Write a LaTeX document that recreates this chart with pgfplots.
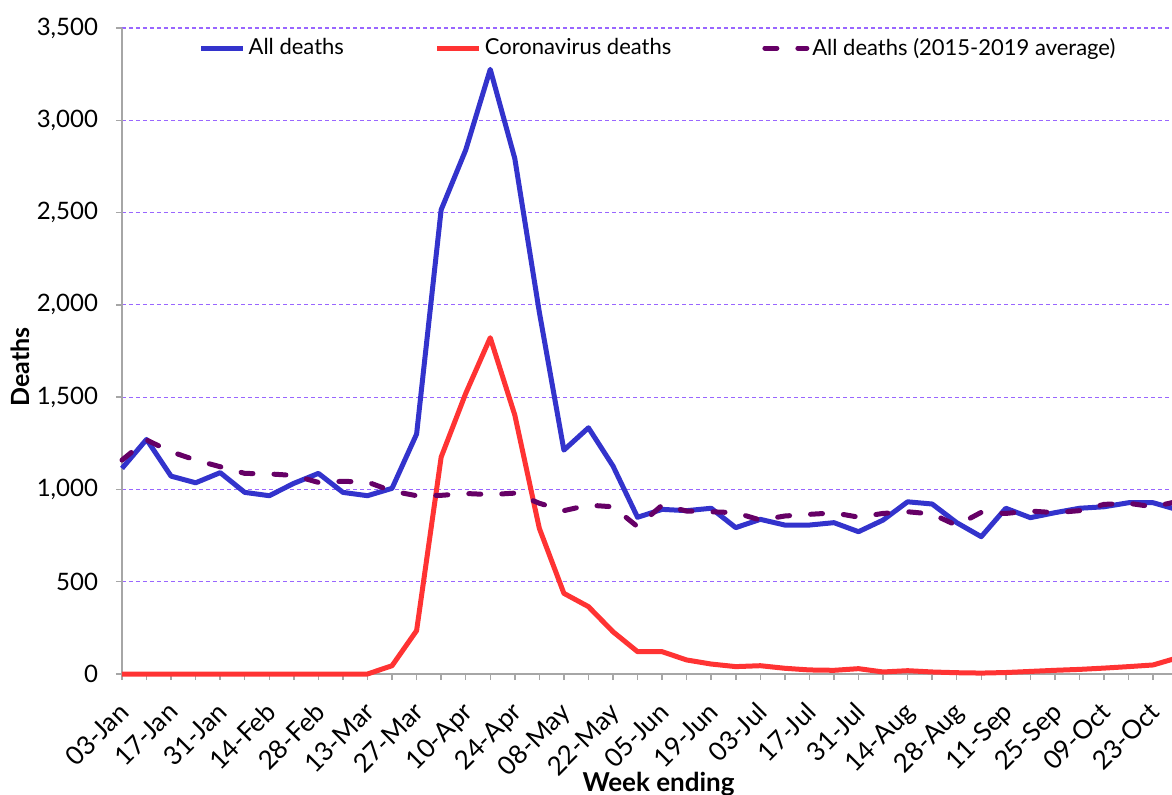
\documentclass[border=0pt]{standalone}
\usepackage{fontspec}
\setmainfont{Lato}
\usepackage{pgfplots}
\pgfplotsset{compat=1.18}

\definecolor{alldeaths}{HTML}{3333CC}
\definecolor{coviddeaths}{HTML}{FF3333}
\definecolor{avgdeaths}{HTML}{660066}
\definecolor{gridpurple}{HTML}{9966FF}
\definecolor{axisgrey}{HTML}{A6A6A6}

% week index (0 = week ending 03-Jan), deaths
\pgfplotstableread{
wk all covid avg
0  1114 0    1159
1  1271 0    1268
2  1072 0    1204
3  1036 0    1159
4  1091 0    1123
5  984  0    1087
6  966  0    1084
7  1033 0    1076
8  1087 0    1038
9  984  0    1044
10 966  0    1040
11 1006 45   991
12 1300 235  966
13 2515 1175 968
14 2839 1520 978
15 3276 1822 972
16 2793 1403 980
17 1960 789  925
18 1213 437  885
19 1334 365  915
20 1127 229  906
21 849  121  798
22 892  121  915
23 885  76   883
24 898  54   879
25 793  40   874
26 838  45   834
27 807  31   856
28 807  22   865
29 820  20   873
30 771  29   850
31 834  11   870
32 933  18   879
33 921  11   867
34 820  7    805
35 744  5    876
36 898  8    870
37 847  14   883
38 874  20   874
39 898  25   885
40 906  32   919
41 928  40   925
42 928  49   906
43 890  88   935
}\deaths

\begin{document}
\begin{tikzpicture}
\begin{axis}[
  scale only axis, width=525pt, height=323pt,
  xmin=0, xmax=42.77, ymin=0, ymax=3500,
  clip=false,
  axis x line*=bottom, axis y line*=left,
  axis line style={axisgrey, line width=1pt},
  xtick={0,2,...,42}, minor xtick={1,3,...,43},
  xticklabels={03-Jan,17-Jan,31-Jan,14-Feb,28-Feb,13-Mar,27-Mar,10-Apr,24-Apr,08-May,22-May,05-Jun,19-Jun,03-Jul,17-Jul,31-Jul,14-Aug,28-Aug,11-Sep,25-Sep,09-Oct,23-Oct},
  ytick={0,500,...,3500},
  scaled y ticks=false,
  /pgf/number format/assume math mode=true,
  /pgf/number format/1000 sep={,},
  ymajorgrids,
  grid style={gridpurple, dash pattern=on 2pt off 1.5pt, line width=0.6pt},
  tick style={axisgrey, line width=0.75pt},
  major tick length=3pt, minor tick length=3pt,
  tick align=outside,
  ticklabel style={font=\fontsize{12}{14}\selectfont},
  % shifts act in the rotated frame
  xticklabel style={rotate=45, anchor=north east, inner sep=0pt, xshift=-8.8pt, yshift=-5.3pt, font=\fontsize{13}{15}\selectfont},
  yticklabel style={xshift=-5.5pt},
  xlabel={Week ending},
  xlabel style={at={(rel axis cs:0.511,0)}, anchor=north, yshift=-45.5pt, font=\bfseries\fontsize{13}{15}\selectfont},
  ylabel={Deaths},
  ylabel style={at={(rel axis cs:0,0.475)}, anchor=center, yshift=51pt, font=\bfseries\fontsize{12.5}{14}\selectfont},
  legend columns=3,
  legend cell align=left,
  legend image code/.code={\draw[#1] (0pt,0pt) -- (21pt,0pt);},
  legend style={at={(rel axis cs:0.511,0.969)}, anchor=center, draw=none, fill=none,
    font=\fontsize{11}{13}\selectfont, nodes={inner sep=1.5pt},
    /tikz/every even column/.append style={column sep=44pt}},
]
\coordinate (O) at (rel axis cs:0,0);
\addplot[alldeaths, line width=2.5pt, line join=round] table[x=wk, y=all] {\deaths};
\addplot[coviddeaths, line width=2.5pt, line join=round] table[x=wk, y=covid] {\deaths};
\addplot[avgdeaths, line width=2.5pt, line cap=round, line join=round, dash pattern=on 6pt off 10.5pt] table[x=wk, y=avg] {\deaths};
\legend{All deaths, Coronavirus deaths, All deaths (2015-2019 average)}
\end{axis}
\pgfresetboundingbox
\path[use as bounding box] (O) ++(-61pt,-60pt) rectangle ++(586pt,397pt);
\end{tikzpicture}
\end{document}
